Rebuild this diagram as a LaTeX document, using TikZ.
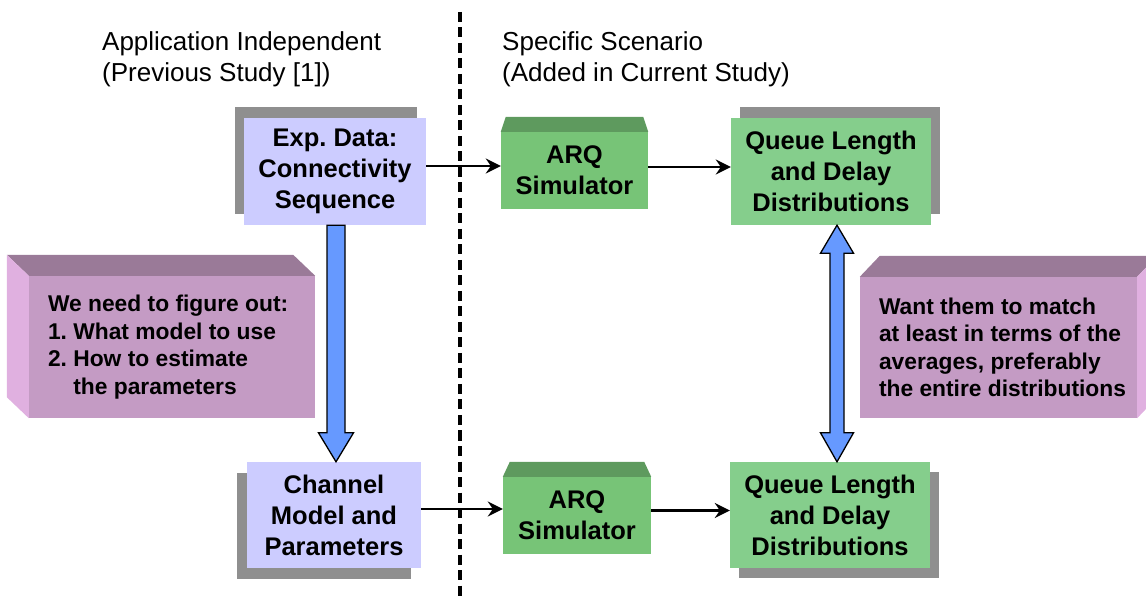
\documentclass[tikz,border=0pt]{standalone}
\usepackage{fontspec}
\setmainfont{Liberation Sans}
\usetikzlibrary{arrows.meta,calc,shadows}

\definecolor{lav}{HTML}{CCCCFF}
\definecolor{shgrey}{HTML}{8F8F8F}
\definecolor{qgreen}{HTML}{85CE8C}
\definecolor{agreen}{HTML}{77C477}
\definecolor{agreentop}{HTML}{5E9A5E}
\definecolor{pfront}{HTML}{C49BC4}
\definecolor{ptop}{HTML}{9A7A98}
\definecolor{pside}{HTML}{E0B0E0}
\definecolor{barrow}{HTML}{6699FF}

\begin{document}
\frenchspacing
\begin{tikzpicture}[x=1pt,y=-1pt,
  boxtext/.style={inner sep=0pt, align=center, font=\fontsize{25.5}{31}\selectfont\bfseries},
  lavbox/.style={boxtext, fill=lav},
  qbox/.style={boxtext, fill=qgreen},
  arqbox/.style={boxtext, fill=agreen},
  shadowUL/.style={general shadow={fill=shgrey, shadow xshift=-9pt, shadow yshift=11pt}},
  shadowUR/.style={general shadow={fill=shgrey, shadow xshift=9pt, shadow yshift=11pt}},
  shadowDL/.style={general shadow={fill=shgrey, shadow xshift=-10pt, shadow yshift=-11pt}},
  shadowDR/.style={general shadow={fill=shgrey, shadow xshift=9pt, shadow yshift=-10pt}},
  pface/.style={fill=pfront, inner sep=0pt},
  ptext/.style={inner sep=0pt, align=left, font=\fontsize{22.8}{27.5}\selectfont\bfseries},
  titletext/.style={inner sep=0pt, align=left, font=\fontsize{26}{31}\selectfont},
  arr/.style={line width=2.2pt, -{Stealth[length=15pt,width=15pt,inset=5pt]}},
  bluearr/.style={fill=barrow, draw=black, line width=1.3pt, line join=miter},
  dashline/.style={line width=3.5pt, dash pattern=on 10pt off 5.5pt}
]
\useasboundingbox (0,0) rectangle (1146,601);
\clip (0,0) rectangle (1146,601);

% dashed divider
\coordinate (dvtop) at (460,12);
\coordinate (dvbot) at (460,601);
\draw[dashline] (dvtop) -- (dvbot);

% titles (base anchor = baseline of the last line)
\node[titletext, anchor=base west] (tleft) at (102,82) {Application Independent\\(Previous Study [1])};
\node[titletext, anchor=base west] (tright) at (502,82) {Specific Scenario\\(Added in Current Study)};

% main boxes
\node[lavbox, shadowUL, minimum width=182pt, minimum height=107pt] (exp) at (335,171.5) {Exp. Data:\\Connectivity\\Sequence};
\node[qbox, shadowUR, minimum width=200pt, minimum height=107pt] (q1) at (831,171.5) {Queue Length\\and Delay\\Distributions};
\node[lavbox, shadowDL, minimum width=174pt, minimum height=106pt] (ch) at (334,515) {Channel\\Model and\\Parameters};
\node[qbox, shadowDR, minimum width=200pt, minimum height=106pt] (q2) at (830,515) {Queue Length\\and Delay\\Distributions};

% ARQ boxes with bevelled top
\node[arqbox, minimum width=147pt, minimum height=77pt] (arq1) at (574.5,170.5) {ARQ\\Simulator};
\fill[agreentop] (arq1.north west) -- ++(5,-15) -- ($(arq1.north east)+(-5,-15)$) -- (arq1.north east) -- cycle;
\node[arqbox, minimum width=148pt, minimum height=77pt] (arq2) at (577,515.5) {ARQ\\Simulator};
\fill[agreentop] (arq2.north west) -- ++(7,-15) -- ($(arq2.north east)+(-7,-15)$) -- (arq2.north east) -- cycle;

% purple 3D boxes
\node[pface, minimum width=286pt, minimum height=142pt] (lp) at (172,347) {};
\fill[ptop] (lp.north west) -- (lp.north east) -- ++(-22,-21) -- ($(lp.north west)+(-22,-21)$) -- cycle;
\fill[pside] (lp.north west) -- ++(-22,-21) -- ($(lp.south west)+(-22,-21)$) -- (lp.south west) -- cycle;
\node[ptext, anchor=west] (lptext) at ($(lp.west)+(19,0)$) {We need to figure out:\\1. What model to use\\2. How to estimate\\\phantom{2. }the parameters};

\node[pface, minimum width=277pt, minimum height=141pt] (rp) at (998.5,347.5) {};
\fill[ptop] (rp.north west) -- ++(20,-21) -- ($(rp.north east)+(20,-21)$) -- (rp.north east) -- cycle;
\fill[pside] (rp.north east) -- ++(20,-21) -- ($(rp.south east)+(20,-21)$) -- (rp.south east) -- cycle;
\node[ptext, anchor=west] (rptext) at ($(rp.west)+(19,0)$) {Want them to match\\at least in terms of the\\averages, preferably\\the entire distributions};

% black connectors
\draw[arr] ([yshift=5.5pt]exp.east) -- ([yshift=5.5pt]exp.east -| arq1.west);
\draw[arr] ([yshift=3.5pt]arq1.east) -- ([yshift=3.5pt]arq1.east -| q1.west);
\draw[arr] ([yshift=6pt]ch.east) -- ([yshift=6pt]ch.east -| arq2.west);
\draw[arr] ([yshift=5pt]arq2.east) -- ([yshift=5pt]arq2.east -| q2.west);

% blue down arrow
\coordinate (dtop) at ($(exp.south)+(1,0)$);
\coordinate (dtip) at (dtop |- ch.north);
\draw[bluearr] (dtop) ++(-9,0) -- ($(dtop)+(9,0)$) -- ($(dtip)+(9,-29)$) -- ($(dtip)+(17.5,-29)$) -- (dtip) -- ($(dtip)+(-17.5,-29)$) -- ($(dtip)+(-9,-29)$) -- cycle;

% blue double arrow
\coordinate (ut) at ($(q1.south)+(6,0)$);
\coordinate (lt) at (ut |- q2.north);
\draw[bluearr] (ut) -- ($(ut)+(16.5,28)$) -- ($(ut)+(7,28)$) -- ($(lt)+(7,-29)$) -- ($(lt)+(16.5,-29)$) -- (lt) -- ($(lt)+(-16.5,-29)$) -- ($(lt)+(-7,-29)$) -- ($(ut)+(-7,28)$) -- ($(ut)+(-16.5,28)$) -- cycle;
\end{tikzpicture}
\end{document}
